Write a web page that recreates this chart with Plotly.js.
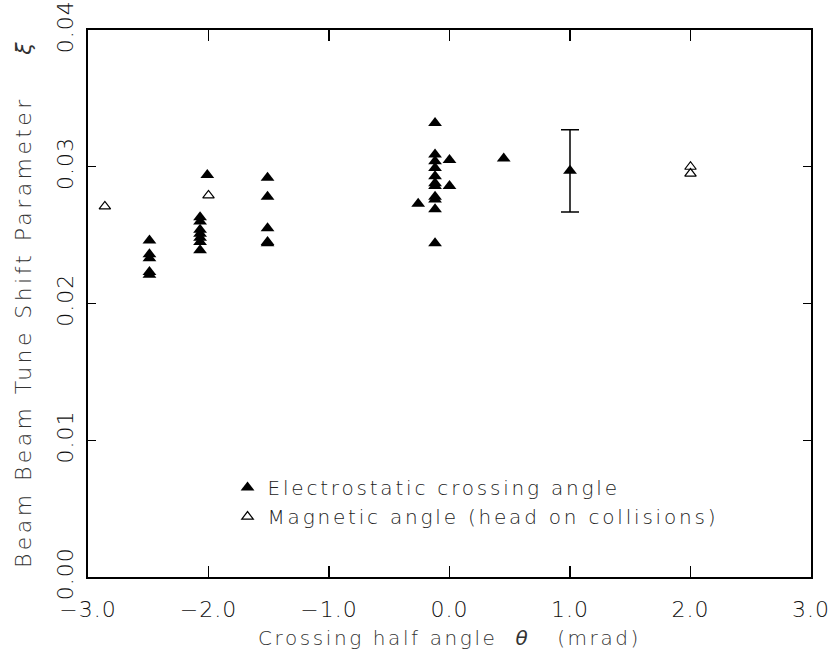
<!DOCTYPE html>
<html>
<head>
<meta charset="utf-8">
<script src="https://cdn.plot.ly/plotly-3.0.1.min.js"></script>
<style>
html, body { margin: 0; padding: 0; background: #fff; }
#chart { width: 832px; height: 660px; }
#chart .g-xtitle text { letter-spacing: 2.6px; }
#chart .g-ytitle text { letter-spacing: 3.4px; }
#chart .legendtext { letter-spacing: 2.8px; }
#chart .xtick text, #chart .ytick text { letter-spacing: 1px; }
#chart .legend .scrollbox, #chart .legend { clip-path: none !important; }
</style>
</head>
<body>
<div id="chart"></div>
<script>
// Electrostatic crossing angle (filled triangles)
const elecX = [
  -2.49, -2.49, -2.49, -2.49, -2.49,
  -2.07, -2.07, -2.07, -2.07, -2.07, -2.07, -2.07,
  -2.01,
  -1.51, -1.51, -1.51, -1.51, -1.51,
  -0.26,
  -0.12, -0.12, -0.12, -0.12, -0.12, -0.12, -0.12, -0.12, -0.12, -0.12, -0.12,
  0.0, 0.0,
  0.45
];
const elecY = [
  0.0246, 0.0236, 0.0233, 0.0223, 0.0221,
  0.0263, 0.0260, 0.0254, 0.0251, 0.0248, 0.0245, 0.0239,
  0.0294,
  0.0292, 0.0278, 0.0255, 0.0245, 0.0244,
  0.0273,
  0.0332, 0.0309, 0.0304, 0.0299, 0.0293, 0.0288, 0.0286, 0.0278, 0.0276, 0.0269, 0.0244,
  0.0305, 0.0286,
  0.0306
];
// Electrostatic point with error bar
const errX = [1.0];
const errY = [0.0297];
const errVal = [0.0030];
// Magnetic angle (open triangles)
const magX = [-2.86, -2.0, 2.0, 2.0];
const magY = [0.0271, 0.0279, 0.0300, 0.0295];

const xTicks = [-3, -2, -1, 0, 1, 2, 3];
const yTicks = [0.00, 0.01, 0.02, 0.03, 0.04];

const FONT = "DejaVu Sans, Liberation Sans, sans-serif";

const traces = [
  {
    x: elecX, y: elecY, type: 'scatter', mode: 'markers',
    name: 'Electrostatic crossing angle',
    marker: { symbol: 'triangle-up', size: 12, color: '#000' }
  },
  {
    x: errX, y: errY, type: 'scatter', mode: 'markers',
    showlegend: false,
    marker: { symbol: 'triangle-up', size: 12, color: '#000' },
    error_y: { type: 'data', array: errVal, visible: true, color: '#000', thickness: 1.5, width: 9 }
  },
  {
    x: magX, y: magY, type: 'scatter', mode: 'markers',
    name: 'Magnetic angle (head on collisions)',
    marker: { symbol: 'triangle-up-open', size: 10, color: '#000', line: { width: 1.2, color: '#000' } }
  }
];

const layout = {
  width: 832, height: 660,
  margin: { l: 88, r: 21, t: 30, b: 83 },
  paper_bgcolor: '#fff', plot_bgcolor: '#fff',
  font: { family: FONT, color: '#222', size: 20, weight: 200 },
  showlegend: true,
  legend: {
    x: 0.193, y: 0.137, xanchor: 'left', yanchor: 'middle',
    bgcolor: 'rgba(0,0,0,0)', borderwidth: 0,
    font: { family: FONT, size: 20, color: '#222', weight: 200 },
    itemwidth: 30
  },
  xaxis: {
    range: [-3, 3], tickvals: xTicks, tickformat: '.1f',
    ticks: 'inside', ticklen: 11, tickwidth: 1.2, tickcolor: '#000',
    showline: true, linecolor: '#000', linewidth: 2, mirror: 'ticks',
    showgrid: false, zeroline: false, ticklabelstandoff: 12,
    tickfont: { family: FONT, size: 22, color: '#111', weight: 200 },
    title: { text: 'Crossing half angle&nbsp;&nbsp;<i>θ</i>&nbsp;&nbsp;&nbsp;(mrad)', font: { family: FONT, size: 20, color: '#333', weight: 200 }, standoff: 10 }
  },
  yaxis: {
    range: [0, 0.04], tickvals: yTicks, tickformat: '.2f', tickangle: -90,
    ticks: 'inside', ticklen: 8, tickwidth: 1.2, tickcolor: '#000',
    showline: true, linecolor: '#000', linewidth: 2, mirror: 'ticks',
    showgrid: false, zeroline: false, ticklabelstandoff: 4,
    tickfont: { family: FONT, size: 22, color: '#111', weight: 200 },
    title: { text: 'Beam&nbsp;Beam&nbsp;Tune&nbsp;Shift&nbsp;Parameter&nbsp;&nbsp;&nbsp;&nbsp;<i>ξ</i>', font: { family: FONT, size: 22, color: '#333', weight: 200 }, standoff: 16 }
  }
};

Plotly.newPlot('chart', traces, layout, { displayModeBar: false, staticPlot: true });
</script>
</body>
</html>
